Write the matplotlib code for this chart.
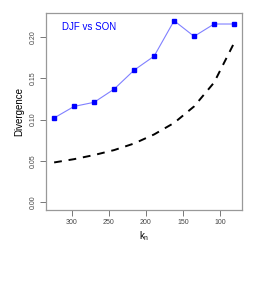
import matplotlib
matplotlib.use('Agg')
import matplotlib.pyplot as plt
import numpy as np

# data
k_n = [324, 297, 270, 243, 216, 189, 162, 135, 108, 81]
div_obs = [0.102, 0.116, 0.121, 0.137, 0.160, 0.177, 0.220, 0.201, 0.216, 0.216]
div_ref = [0.048, 0.052, 0.057, 0.063, 0.071, 0.082, 0.096, 0.116, 0.145, 0.193]
yticks = [0.00, 0.05, 0.10, 0.15, 0.20]
xticks = [300, 250, 200, 150, 100]

plt.rcParams['font.family'] = ['Liberation Sans', 'DejaVu Sans']

fig = plt.figure(figsize=(2.73, 2.83), dpi=100)
ax = fig.add_axes([0.1685, 0.258, 0.718, 0.695])

ax.plot(k_n, div_obs, color='#8080ff', lw=0.8, zorder=2)
ax.plot(k_n, div_obs, 's', color='blue', ms=3.2, zorder=3)
ax.plot(k_n, div_ref, color='black', lw=1.4, ls=(0, (4, 3.5)))

ax.set_xlim(335, 70.3)
ax.set_ylim(-0.0097, 0.229)
ax.set_xticks(xticks)
ax.set_xticklabels([str(v) for v in xticks])
ax.set_yticks(yticks)
ax.set_yticklabels(['%.2f' % v for v in yticks], rotation=90, va='center')

for s in ax.spines.values():
    s.set_color('#999999')
    s.set_linewidth(0.9)
ax.tick_params(length=4, width=0.7, color='#777777', labelsize=5, labelcolor='#444444', pad=2.5)

ax.text(0.08, 0.93, 'DJF vs SON', transform=ax.transAxes, color='blue', fontsize=7, va='center')
ax.set_xlabel(r'k$_\mathregular{n}$', fontsize=7, labelpad=2)
ax.set_ylabel('Divergence', fontsize=7, labelpad=4)

fig.savefig('out.png', dpi=100)
